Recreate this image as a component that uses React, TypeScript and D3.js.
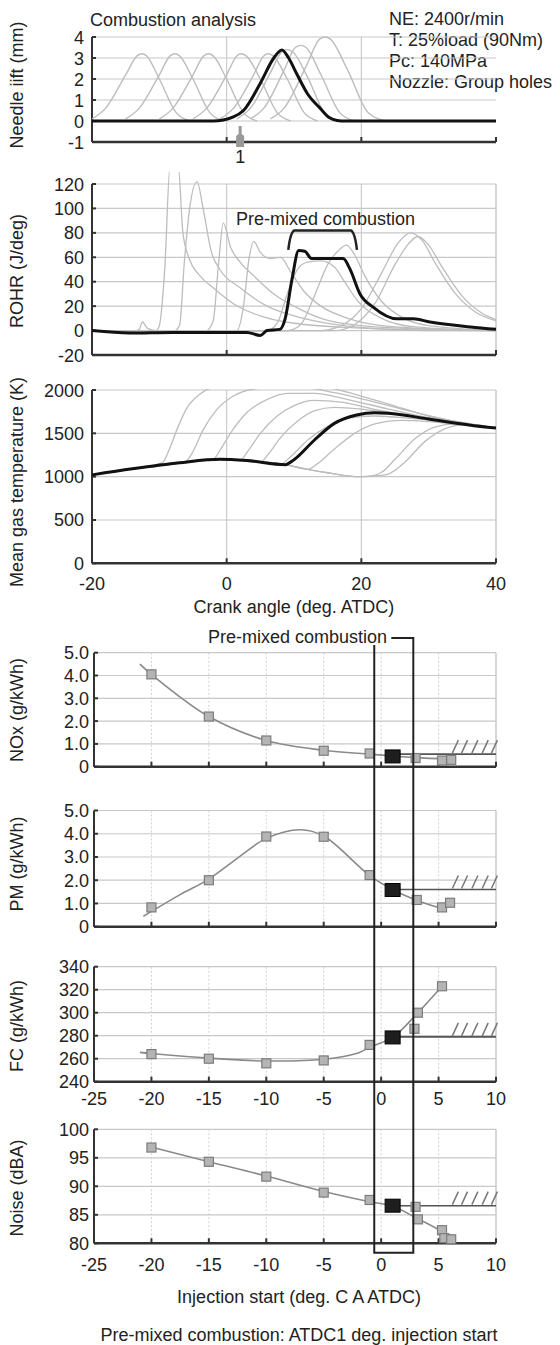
import React from 'react';
import * as d3 from 'd3';

type P = [number, number];

const FONT = '"Liberation Sans", Arial, Helvetica, sans-serif';
const GRID = '#c8c8c8';
const AXIS = '#333';
const GRAYLINE = '#bdbdbd';

// ---------------- text ----------------
const titleTop = 'Combustion analysis';
const infoLines = ['NE: 2400r/min', 'T: 25%load (90Nm)', 'Pc: 140MPa', 'Nozzle: Group holes'];
const premixLabel = 'Pre-mixed combustion';
const footer = 'Pre-mixed combustion: ATDC1 deg. injection start';

// ---------------- ticks ----------------
const crankTicks = [-20, 0, 20, 40];
const crankGrid = [0, 20];
const needleTicks = [-1, 0, 1, 2, 3, 4];
const rohrTicks = [-20, 0, 20, 40, 60, 80, 100, 120];
const tempTicks = [0, 500, 1000, 1500, 2000];
const injTicks = [-25, -20, -15, -10, -5, 0, 5, 10];
const injGrid = [-20, -15, -10, -5, 0, 5];
const noxTicks = [0, 1, 2, 3, 4, 5];
const pmTicks = [0, 1, 2, 3, 4, 5];
const fcTicks = [240, 260, 280, 300, 320, 340];
const noiseTicks = [80, 85, 90, 95, 100];

// ---------------- needle lift ----------------
const needleMarkerAt = 2;
const needleBlack: P[] = [[-20, 0], [-2, 0], [1, 0.2], [2.5, 0.5], [5, 1.8], [7, 3.0], [8.2, 3.38], [9.2, 3.0], [10.4, 2.25], [12, 1.3], [13.9, 0.6], [15.3, 0.15], [16.4, 0.02], [17, 0], [40, 0]];
const needleGray: P[][] = [
  [[-20, 0.1], [-18, 0.6], [-15, 2.2], [-13.3, 3.1], [-12.6, 3.2], [-11.9, 3.1], [-10, 2.0], [-7.5, 0.4], [-5.5, 0]],
  [[-15, 0.1], [-13, 0.6], [-10, 2.2], [-8.4, 3.1], [-7.7, 3.2], [-7, 3.1], [-5, 2.0], [-2.5, 0.4], [-0.5, 0]],
  [[-10, 0.1], [-8, 0.6], [-5, 2.2], [-3.4, 3.1], [-2.7, 3.2], [-2, 3.1], [0, 2.0], [2.5, 0.4], [4.5, 0]],
  [[-5, 0.1], [-3, 0.6], [0, 2.2], [1.5, 3.1], [2.2, 3.2], [2.9, 3.1], [5, 2.0], [7.5, 0.4], [9.5, 0]],
  [[-1, 0.1], [1, 0.6], [4, 2.2], [5.5, 3.1], [6.2, 3.2], [6.9, 3.1], [9, 2.0], [11.5, 0.4], [13.5, 0]],
  [[1.5, 0.1], [3.5, 0.6], [6.5, 2.3], [8.2, 3.3], [9, 3.4], [9.8, 3.3], [12, 2.1], [14.5, 0.4], [16.5, 0]],
  [[3.5, 0.1], [5.5, 0.6], [8.5, 2.4], [10.2, 3.5], [11, 3.6], [11.8, 3.5], [14, 2.2], [16.8, 0.4], [19, 0]],
  [[6.5, 0.1], [8.5, 0.6], [11.8, 2.6], [13.8, 3.9], [14.6, 4.0], [15.4, 3.9], [18, 2.4], [21, 0.4], [23.5, 0]],
];

// ---------------- ROHR ----------------
const rohrBlack: P[] = [[-20, 0], [-14.4, -2], [-8, -1.5], [3, -1.5], [5, -4], [6, 0], [7.9, 1], [8.7, 10], [9.7, 42], [10.7, 65.5], [11.6, 65], [12.6, 59], [17.3, 59], [18.3, 50.5], [19.8, 30], [21.8, 19], [25.3, 9.6], [27.7, 9.6], [30.2, 7], [36.2, 3], [40, 1]];
const rohrGray: P[][] = [
  [[-20, 0], [-14, -1], [-13, 1], [-12.5, 7], [-11.8, 2], [-10.5, 0], [-10, 4], [-9.2, 50], [-8.4, 135], [-7.2, 135], [-6.5, 80], [-5.5, 58], [-4, 45], [-2, 35], [1, 22], [5, 12], [10, 6], [20, 2], [30, 0], [40, 0]],
  [[-20, 0], [-8, -1], [-7, 4], [-6.3, 55], [-5.5, 100], [-4.4, 122], [-3.5, 100], [-2.3, 65], [-1, 50], [2, 35], [6, 20], [10, 12], [16, 5], [25, 1], [40, 0]],
  [[-20, 0], [-3, 0], [-2, 8], [-1.2, 55], [-0.5, 88], [0.6, 68], [2, 56], [4, 45], [7, 30], [10, 20], [14, 10], [20, 4], [30, 1], [40, 0]],
  [[-20, 0], [1.5, 0], [2.5, 20], [3.3, 58], [4, 73], [5, 64], [6.5, 59], [8, 60], [9.5, 48], [11.5, 32], [14, 20], [18, 10], [25, 3], [40, 0]],
  [[-20, 0], [6, 0], [7.5, 6], [9, 30], [10.5, 50], [12, 56], [14, 57], [16, 52], [17.5, 40], [19.5, 24], [23, 10], [28, 3], [40, 0]],
  [[-20, 0], [9, 0], [11, 5], [13, 28], [15, 54], [16.5, 65], [17.8, 70], [19, 62], [20.5, 45], [23, 24], [26, 11], [30, 4], [40, 0]],
  [[-20, 0], [14, 0], [17, 4], [20, 18], [23, 47], [25.5, 72], [27.3, 80], [29, 74], [31, 55], [34, 30], [37, 15], [40, 8]],
  [[-20, 0], [16, 0], [19, 5], [22, 22], [25, 54], [27, 71], [28.4, 77], [30, 70], [32, 52], [35, 28], [38, 14], [40, 9]],
];
const bracketX = [9.6, 18.9];
const bracketTop = 82;
const bracketEnd = 66;

// ---------------- temperature ----------------
const tempBase: P[] = [[-20, 1020], [-14, 1090], [-7, 1160], [-1, 1200], [3, 1185], [8.7, 1140], [12, 1085], [15, 1045], [18, 1010], [20, 1000], [22, 1008]];
const tempBlack: P[] = [[-20, 1020], [-14, 1090], [-7, 1160], [-1, 1200], [3, 1185], [8.7, 1138], [10, 1195], [13, 1420], [16, 1615], [19.3, 1712], [22, 1738], [24, 1732], [30, 1665], [36, 1597], [40, 1560]];
const tempRises: P[][] = [
  [[-9.5, 1165], [-8.5, 1320], [-7.3, 1560], [-6, 1780], [-4, 1950], [-2, 2030], [5, 2080], [14, 2040], [20, 1930], [25, 1815], [30, 1700], [35, 1625], [40, 1560]],
  [[-6, 1180], [-5, 1290], [-3.5, 1540], [-1.5, 1770], [1, 1930], [4, 2010], [10, 2040], [16, 1970], [21, 1880], [26, 1780], [31, 1685], [36, 1610], [40, 1560]],
  [[-2, 1200], [-0.8, 1330], [1, 1550], [3, 1740], [6, 1890], [9, 1960], [13, 1960], [18, 1890], [24, 1780], [30, 1680], [35, 1615], [40, 1560]],
  [[2, 1190], [3.2, 1300], [5, 1500], [7.5, 1700], [10, 1820], [13, 1880], [17, 1860], [22, 1775], [28, 1690], [34, 1620], [40, 1560]],
  [[5, 1170], [6.2, 1260], [8, 1450], [10.5, 1640], [13, 1760], [16, 1800], [20, 1780], [25, 1725], [30, 1665], [35, 1610], [40, 1560]],
  [[8, 1145], [9.5, 1230], [12, 1420], [15, 1580], [18, 1675], [22, 1700], [27, 1675], [32, 1635], [36, 1600], [40, 1560]],
  [[12, 1085], [13.5, 1150], [16, 1320], [19, 1500], [22, 1610], [26, 1650], [30, 1635], [35, 1600], [40, 1560]],
  [[21, 1003], [23, 1050], [25, 1200], [28, 1440], [31, 1575], [34, 1610], [37, 1590], [40, 1560]],
  [[22, 1008], [24, 1030], [26.5, 1170], [29.5, 1410], [32.5, 1555], [35.5, 1600], [40, 1565]],
];

// ---------------- injection timing results ----------------
const selectedInj = 1;
const boxX = [-0.6, 2.8];
const hatchX = [6.2, 7.0, 7.9, 8.8, 9.6];

const noxPts: P[] = [[-20, 4.05], [-15, 2.2], [-10, 1.15], [-5, 0.7], [-1, 0.58], [3, 0.38], [5.3, 0.27], [6.1, 0.3]];
const noxSel = 0.45;
const noxFit: P[] = [[-21, 4.5], [-20, 4.05], [-15, 2.2], [-10, 1.15], [-5, 0.72], [-1, 0.55], [1, 0.47], [3, 0.4], [6, 0.33]];
const noxLimit = 0.55;

const pmPts: P[] = [[-20, 0.83], [-15, 2.0], [-10, 3.88], [-5, 3.87], [-1, 2.22], [3.1, 1.15], [5.3, 0.83], [6, 1.03]];
const pmSel = 1.58;
const pmFit: P[] = [[-20.7, 0.45], [-17.5, 1.38], [-15, 2.05], [-12.5, 2.95], [-10, 3.8], [-7, 4.17], [-5, 3.9], [-1, 2.2], [1, 1.6], [3, 1.15], [5.3, 0.78]];
const pmLimit = 1.6;

const fcPts: P[] = [[-20, 264], [-15, 260], [-10, 256], [-5, 258.5], [-1, 272], [2.9, 286], [3.2, 300], [5.3, 323]];
const fcSel = 278.5;
const fcFit: P[] = [[-21, 265.5], [-20, 264.5], [-15, 260.5], [-10, 258], [-5, 259.5], [-2, 265], [-1, 270], [1, 278.5], [3.2, 300], [5.3, 323]];
const fcLimit = 279;

const noisePts: P[] = [[-20, 96.8], [-15, 94.3], [-10, 91.7], [-5, 88.9], [-1, 87.6], [3, 86.4], [3.2, 84.2], [5.3, 82.3], [5.5, 80.9], [6.1, 80.7]];
const noiseSel = 86.6;
const noiseFit: P[] = [[-20.2, 97], [-15, 94.3], [-10, 91.8], [-5, 89.1], [-1, 87.3], [1, 86.5], [3.2, 84.3], [5.3, 82], [6.1, 80.5]];
const noiseLimit = 86.6;

// ---------------- scales ----------------
const X_TOP = d3.scaleLinear().domain([-20, 40]).range([92, 496]);
const Y_NEEDLE = d3.scaleLinear().domain([-1, 4]).range([142, 37]);
const Y_ROHR = d3.scaleLinear().domain([-20, 120]).range([355, 184]);
const Y_TEMP = d3.scaleLinear().domain([0, 2000]).range([563.3, 390]);
const X_BOT = d3.scaleLinear().domain([-25, 10]).range([94, 496]);
const Y_NOX = d3.scaleLinear().domain([0, 5]).range([766.7, 652.7]);
const Y_PM = d3.scaleLinear().domain([0, 5]).range([926.7, 810.5]);
const Y_FC = d3.scaleLinear().domain([240, 340]).range([1081.7, 966.7]);
const Y_NOISE = d3.scaleLinear().domain([80, 100]).range([1243.3, 1129.3]);

const mkLine = (x: any, y: any, curve: any = d3.curveMonotoneX) =>
  d3.line<P>().x(d => x(d[0])).y(d => y(d[1])).curve(curve);

function Axes(props: any) {
  const { x, y, yTicks, yFmt, xMarks, vGrid, dashedV, rightBorder, labelEnd, xLabels, xLabelBase } = props;
  const [x0, x1] = x.range();
  const [yb, yt] = y.range();
  const ymin = y.domain()[0];
  return (
    <g>
      {yTicks.filter((t: number) => t !== ymin).map((t: number) => (
        <line key={'h' + t} x1={x0} x2={x1} y1={y(t)} y2={y(t)} stroke={GRID} strokeWidth={1.2} />
      ))}
      {vGrid.map((t: number) => (
        <line key={'v' + t} x1={x(t)} x2={x(t)} y1={yt} y2={yb} stroke={dashedV ? '#d4d4d4' : GRID}
          strokeWidth={1.1} strokeDasharray={dashedV ? '2,2' : undefined} />
      ))}
      {rightBorder && <line x1={x1} x2={x1} y1={yt} y2={yb} stroke={GRID} strokeWidth={1.5} />}
      <line x1={x0} x2={x0} y1={yt} y2={yb} stroke={AXIS} strokeWidth={2} />
      <line x1={x0} x2={x1} y1={yb} y2={yb} stroke={AXIS} strokeWidth={2.5} />
      {yTicks.map((t: number) => (
        <line key={'yt' + t} x1={x0} x2={x0 + 4} y1={y(t)} y2={y(t)} stroke={AXIS} strokeWidth={2} />
      ))}
      {xMarks.map((t: number) => (
        <line key={'xt' + t} x1={x(t)} x2={x(t)} y1={yb} y2={yb - 5} stroke={AXIS} strokeWidth={2} />
      ))}
      {yTicks.map((t: number) => (
        <text key={'yl' + t} x={labelEnd} y={y(t) + 6.5} textAnchor="end">{yFmt(t)}</text>
      ))}
      {xLabels && xMarks.map((t: number) => (
        <text key={'xl' + t} x={x(t)} y={xLabelBase} textAnchor="middle">{String(t)}</text>
      ))}
    </g>
  );
}

function YLabel({ text, cy }: { text: string; cy: number }) {
  return <text transform={`translate(22.5,${cy}) rotate(-90)`} textAnchor="middle">{text}</text>;
}

function Results(props: any) {
  const { y, pts, sel, fit, limit } = props;
  const ln = mkLine(X_BOT, y, d3.curveCatmullRom.alpha(0.5));
  const yl = y(limit);
  return (
    <g>
      <path d={ln(fit) || ''} fill="none" stroke="#8a8a8a" strokeWidth={1.6} />
      <line x1={X_BOT(selectedInj)} x2={X_BOT(10)} y1={yl} y2={yl} stroke="#555" strokeWidth={1.6} />
      {hatchX.map(h => (
        <line key={h} x1={X_BOT(h)} y1={yl - 1} x2={X_BOT(h) + 6} y2={yl - 14} stroke="#777" strokeWidth={1.5} />
      ))}
      {pts.map((p: P, i: number) => (
        <rect key={i} x={X_BOT(p[0]) - 4.5} y={y(p[1]) - 4.5} width={9} height={9}
          fill="#b4b4b4" stroke="#7c7c7c" strokeWidth={1.2} />
      ))}
      <rect x={X_BOT(selectedInj) - 7.5} y={y(sel) - 6.5} width={15} height={13} fill="#1e1e1e" stroke="#000" strokeWidth={1} />
    </g>
  );
}

export default function App() {
  const lNeedle = mkLine(X_TOP, Y_NEEDLE);
  const lRohr = mkLine(X_TOP, Y_ROHR);
  const lTemp = mkLine(X_TOP, Y_TEMP);
  const mx = X_TOP(needleMarkerAt);
  const bx0 = X_BOT(boxX[0]);
  const bx1 = X_BOT(boxX[1]);
  const tempGray = tempRises.map(r => tempBase.filter(p => p[0] < r[0][0]).concat(r));
  const bl = X_TOP(bracketX[0]);
  const br = X_TOP(bracketX[1]);
  const bt = Y_ROHR(bracketTop);
  const be = Y_ROHR(bracketEnd);

  return (
    <svg width={560} height={1345} style={{ position: 'absolute', left: 0, top: 0, background: '#fff' }}
      fontFamily={FONT} fontSize={18} fill="#222">
      <defs>
        <clipPath id="cpNeedle"><rect x={92} y={30} width={404} height={112} /></clipPath>
        <clipPath id="cpRohr"><rect x={92} y={172} width={404} height={183} /></clipPath>
        <clipPath id="cpTemp"><rect x={92} y={389} width={404} height={175} /></clipPath>
      </defs>

      {/* ---------- Needle lift ---------- */}
      <text x={90} y={26}>{titleTop}</text>
      {infoLines.map((t, i) => (
        <text key={t} x={389} y={25 + i * 21}>{t}</text>
      ))}
      <Axes x={X_TOP} y={Y_NEEDLE} yTicks={needleTicks} yFmt={(v: number) => String(v)} xMarks={[0, 20, 40]}
        vGrid={crankGrid} labelEnd={84} />
      <g clipPath="url(#cpNeedle)">
        {needleGray.map((c, i) => (
          <path key={i} d={lNeedle(c) || ''} fill="none" stroke={GRAYLINE} strokeWidth={1.4} />
        ))}
        <path d={lNeedle(needleBlack) || ''} fill="none" stroke="#111" strokeWidth={3} />
      </g>
      <path d={`M${mx - 1.5},126 L${mx + 1.5},126 L${mx + 1.5},134 L${mx + 4},136 L${mx + 4},147 L${mx - 4},147 L${mx - 4},136 L${mx - 1.5},134 Z`}
        fill="#999" />
      <text x={mx} y={163} textAnchor="middle">1</text>
      <YLabel text="Needle iift (mm)" cy={85} />

      {/* ---------- ROHR ---------- */}
      <Axes x={X_TOP} y={Y_ROHR} yTicks={rohrTicks} yFmt={(v: number) => String(v)} xMarks={[0, 20, 40]}
        vGrid={crankGrid} rightBorder labelEnd={84} />
      <g clipPath="url(#cpRohr)">
        {rohrGray.map((c, i) => (
          <path key={i} d={lRohr(c) || ''} fill="none" stroke={GRAYLINE} strokeWidth={1.3} />
        ))}
        <path d={lRohr(rohrBlack) || ''} fill="none" stroke="#111" strokeWidth={3} />
      </g>
      <text x={(bl + br) / 2 + 3} y={224.5} textAnchor="middle">{premixLabel}</text>
      <path d={`M${bl - 3},${be} Q${bl - 1},${bt + 2} ${bl + 3},${bt} L${br - 3},${bt} Q${br + 1},${bt + 2} ${br + 3},${be}`}
        fill="none" stroke="#222" strokeWidth={2.5} />
      <YLabel text="ROHR (J/deg)" cy={271} />

      {/* ---------- Temperature ---------- */}
      <Axes x={X_TOP} y={Y_TEMP} yTicks={tempTicks} yFmt={(v: number) => String(v)} xMarks={crankTicks}
        vGrid={crankGrid} rightBorder labelEnd={84} xLabels xLabelBase={590} />
      <g clipPath="url(#cpTemp)">
        {tempGray.map((c, i) => (
          <path key={i} d={lTemp(c) || ''} fill="none" stroke={GRAYLINE} strokeWidth={1.3} />
        ))}
        <path d={lTemp(tempBlack) || ''} fill="none" stroke="#111" strokeWidth={3} />
      </g>
      <text x={294} y={613} textAnchor="middle">Crank angle (deg. ATDC)</text>
      <YLabel text="Mean gas temperature (K)" cy={482} />

      {/* ---------- NOx ---------- */}
      <Axes x={X_BOT} y={Y_NOX} yTicks={noxTicks} yFmt={(v: number) => (v === 0 ? '0' : v.toFixed(1))}
        xMarks={injTicks} vGrid={injGrid} dashedV rightBorder labelEnd={89} />
      <Results y={Y_NOX} pts={noxPts} sel={noxSel} fit={noxFit} limit={noxLimit} />
      <YLabel text="NOx (g/kWh)" cy={710} />

      {/* ---------- PM ---------- */}
      <Axes x={X_BOT} y={Y_PM} yTicks={pmTicks} yFmt={(v: number) => (v === 0 ? '0' : v.toFixed(1))}
        xMarks={injTicks} vGrid={injGrid} dashedV rightBorder labelEnd={89} />
      <Results y={Y_PM} pts={pmPts} sel={pmSel} fit={pmFit} limit={pmLimit} />
      <YLabel text="PM (g/kWh)" cy={864} />

      {/* ---------- FC ---------- */}
      <Axes x={X_BOT} y={Y_FC} yTicks={fcTicks} yFmt={(v: number) => String(v)}
        xMarks={injTicks} vGrid={injGrid} dashedV rightBorder labelEnd={89} xLabels xLabelBase={1104.5} />
      <Results y={Y_FC} pts={fcPts} sel={fcSel} fit={fcFit} limit={fcLimit} />
      <YLabel text="FC (g/kWh)" cy={1026} />

      {/* ---------- Noise ---------- */}
      <Axes x={X_BOT} y={Y_NOISE} yTicks={noiseTicks} yFmt={(v: number) => String(v)}
        xMarks={injTicks} vGrid={injGrid} dashedV rightBorder labelEnd={89} xLabels xLabelBase={1270.5} />
      <Results y={Y_NOISE} pts={noisePts} sel={noiseSel} fit={noiseFit} limit={noiseLimit} />
      <YLabel text="Noise (dBA)" cy={1188} />
      <text x={299} y={1303} textAnchor="middle">Injection start (deg. C A ATDC)</text>

      {/* ---------- Pre-mixed combustion box ---------- */}
      <text x={387} y={642.5} textAnchor="end">{premixLabel}</text>
      <path d={`M${bx0},645 L${bx0},1252.7 L${bx1},1252.7 L${bx1},638 L${bx1 - 22},638`}
        fill="none" stroke="#222" strokeWidth={2} />

      <text x={299} y={1341} textAnchor="middle">{footer}</text>
    </svg>
  );
}
